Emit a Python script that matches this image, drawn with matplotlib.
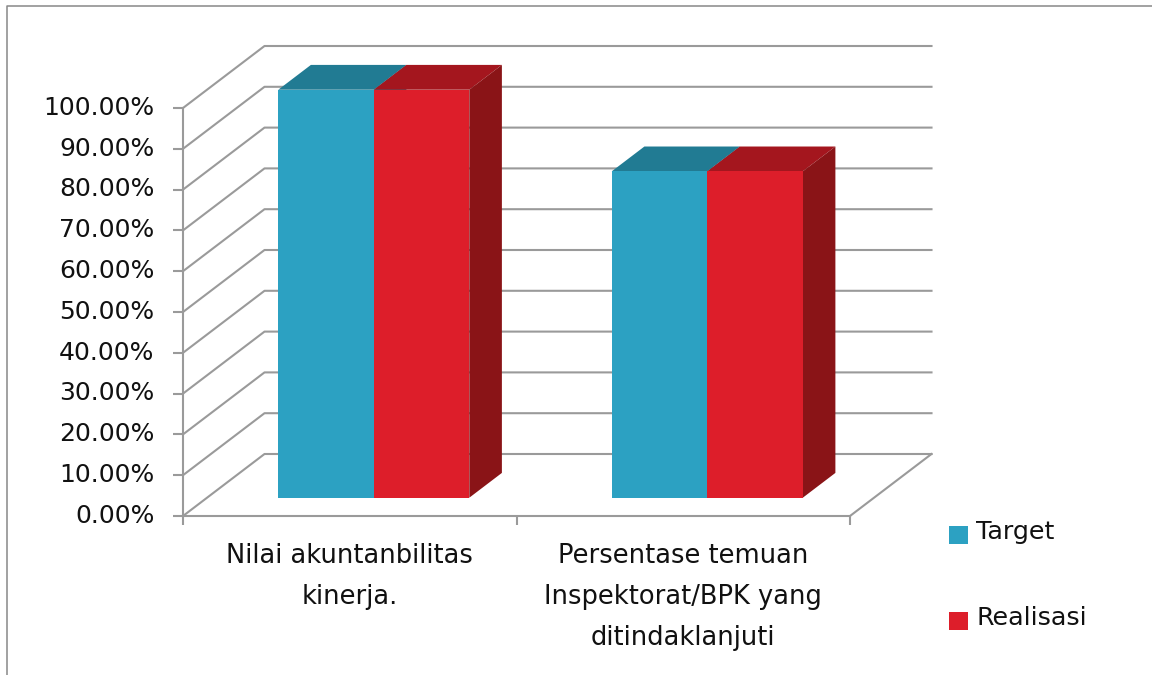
import matplotlib
matplotlib.use("Agg")
import matplotlib.pyplot as plt
from matplotlib.lines import Line2D
from matplotlib.transforms import ScaledTranslation

CATEGORIES = ["Nilai akuntanbilitas\nkinerja.", "Persentase temuan\nInspektorat/BPK yang\nditindaklanjuti"]
SERIES = ["Target", "Realisasi"]
TARGET = [100.0, 80.0]
REALISASI = [100.0, 80.0]
Y_TICKS = [0, 10, 20, 30, 40, 50, 60, 70, 80, 90, 100]

W, H = 1152, 675
GRID = "#9a9a9a"
TEXT = "#111111"

# front face, side and top colours per series
COLORS = {"Target": ("#2CA1C2", "#1F7F99", "#217B93"), "Realisasi": ("#DD1E2A", "#8A1417", "#A4161E")}

fig = plt.figure(figsize=(W / 100, H / 100), dpi=100)
ax = fig.add_axes([183 / W, 1 - 516 / H, (850 - 183) / W, (516 - 108) / H])
ax.set_xlim(0, 2)
ax.set_ylim(0, 100)

# depth of the fake 3d box, in data units
DX = 81.5 / 333.5
DY = 62 / 4.08
# bars sit between these two fractions of the depth
D_FRONT, D_BACK = 0.295, 0.695
BAR_W = 95.5 / 333.5

for v in Y_TICKS:
    ax.plot([0, DX, 2 + DX], [v, v + DY, v + DY], color=GRID, lw=1.5, clip_on=False, zorder=1)
ax.plot([2, 2 + DX], [0, DY], color=GRID, lw=1.5, clip_on=False, zorder=1)

handles = []
for s, (name, values) in enumerate(zip(SERIES, [TARGET, REALISASI])):
    front, side, top = COLORS[name]
    for i, val in enumerate(values):
        x0 = i + 0.5 + D_FRONT * DX + (s - 1) * BAR_W
        x1 = x0 + BAR_W
        y0 = D_FRONT * DY
        y1 = y0 + val
        ox = (D_BACK - D_FRONT) * DX
        oy = (D_BACK - D_FRONT) * DY
        ax.fill([x0, x1, x1 + ox, x0 + ox], [y1, y1, y1 + oy, y1 + oy], color=top, lw=0, clip_on=False, zorder=2 + s)
        ax.fill([x1, x1 + ox, x1 + ox, x1], [y0, y0 + oy, y1 + oy, y1], color=side, lw=0, clip_on=False, zorder=2 + s)
    bars = ax.bar([i + 0.5 + D_FRONT * DX + (s - 0.5) * BAR_W for i in range(2)], values, BAR_W,
                  bottom=D_FRONT * DY, color=front, label=name, clip_on=False, zorder=3 + s)
    handles.append(bars)

for sp in ["top", "right"]:
    ax.spines[sp].set_visible(False)
for sp in ["left", "bottom"]:
    ax.spines[sp].set_color(GRID)
    ax.spines[sp].set_linewidth(1.5)
    ax.spines[sp].set_zorder(1)

ax.set_yticks(Y_TICKS)
ax.set_yticklabels([f"{v:.2f}%" for v in Y_TICKS], fontsize=18, color=TEXT)
ax.tick_params(axis="y", length=7.5, width=1.5, color=GRID, pad=13)
# y labels sit a little above their ticks in the original
nudge = ScaledTranslation(0, 2 / 72, fig.dpi_scale_trans)
for lab in ax.get_yticklabels():
    lab.set_transform(lab.get_transform() + nudge)

ax.set_xticks([0, 1, 2])
ax.set_xticklabels([])
ax.tick_params(axis="x", which="major", length=6.5, width=1.5, color=GRID)
ax.set_xticks([0.5, 1.5], minor=True)
ax.set_xticklabels(CATEGORIES, minor=True, fontsize=18.5, color=TEXT, linespacing=1.74)
ax.tick_params(axis="x", which="minor", length=0, pad=19.5)

leg = fig.legend(handles=handles, labels=SERIES, loc="upper left", bbox_to_anchor=(941 / W, 1 - 512 / H),
                 frameon=False, fontsize=18.3, labelcolor=TEXT, handlelength=0.75, handleheight=0.75,
                 handletextpad=0.34, labelspacing=2.44, borderpad=0.3, borderaxespad=0)
for h in leg.legend_handles:
    h.set_y(h.get_y() - 3.7)

# thin frame of the original picture, only top and left show
fig.add_artist(Line2D([7 / W, 7 / W, 1], [0, 1 - 6 / H, 1 - 6 / H], color="#888888", lw=1.1))

fig.savefig("out.png", dpi=100)
